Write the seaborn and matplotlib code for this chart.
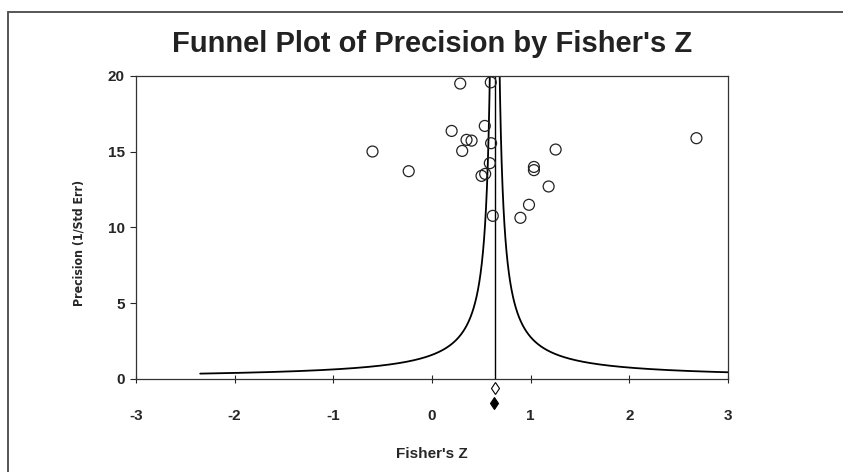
import numpy as np
import pandas as pd
import seaborn as sns
import matplotlib.pyplot as plt
from matplotlib.lines import Line2D

sns.set_style("ticks")
plt.rcParams['font.family'] = ['Liberation Sans', 'DejaVu Sans']
plt.rcParams['axes.unicode_minus'] = False

# study effects (Fisher's Z) and precision (1/SE)
fisher_z = [0.286, 0.596, 0.199, 0.535, 0.350, 0.401, -0.603, 0.306, 0.599, 1.253,
            -0.236, 0.586, 0.502, 0.539, 1.033, 1.033, 1.182, 0.983, 0.616, 0.896, 2.68]
precision = [19.50, 19.58, 16.37, 16.70, 15.78, 15.73, 15.01, 15.05, 15.56, 15.14,
             13.71, 14.24, 13.40, 13.53, 13.99, 13.78, 12.70, 11.49, 10.76, 10.63, 15.89]
pooled_z = 0.636        # observed summary (open diamond)
adjusted_z = 0.632      # adjusted summary (filled diamond)
funnel_k = 1.0          # half-width of funnel = k / precision
prec_min, prec_max = 0.335, 20.5
xticks = [-3, -2, -1, 0, 1, 2, 3]
yticks = [0, 5, 10, 15, 20]

df = pd.DataFrame({"z": fisher_z, "prec": precision})

fig = plt.figure(figsize=(8.43, 4.72), dpi=100)
ax = fig.add_axes([0.1613, 0.1977, 0.7023, 0.6413])

# funnel boundaries
p = np.geomspace(prec_min, prec_max, 400)
funnel = pd.DataFrame({
    "z": np.concatenate([pooled_z - funnel_k / p, pooled_z + funnel_k / p]),
    "prec": np.concatenate([p, p]),
    "side": ["left"] * len(p) + ["right"] * len(p),
})
for side, part in funnel.groupby("side"):
    sns.lineplot(data=part, x="z", y="prec", ax=ax, color="black", lw=1.3,
                 sort=False, estimator=None)
ax.axvline(pooled_z, color="black", lw=1.0)

sns.scatterplot(data=df, x="z", y="prec", ax=ax, marker="o", s=62,
                facecolor="none", edgecolor="#222222", linewidth=0.9, zorder=5)

# summary diamonds below the axis
ax.plot([pooled_z], [-0.62], marker="d", ms=6.5, mfc="white", mec="black",
        mew=0.8, clip_on=False, zorder=6)
ax.plot([adjusted_z], [-1.62], marker="d", ms=6.5, mfc="black", mec="black",
        mew=0.8, clip_on=False, zorder=6)

ax.set_xlim(-3, 3)
ax.set_ylim(0, 20)
ax.set_xticks(xticks)
ax.set_yticks(yticks)
ax.tick_params(axis="x", direction="inout", length=6, width=0.8, pad=19,
               labelsize=11)
ax.tick_params(axis="y", direction="out", length=4, width=0.8, pad=4,
               labelsize=11)
for lab in ax.get_xticklabels() + ax.get_yticklabels():
    lab.set_fontweight("bold")
for s in ax.spines.values():
    s.set_linewidth(0.9)
    s.set_color("#333333")

ax.set_xlabel("Fisher's Z", fontsize=11, fontweight="bold", labelpad=17)
ax.set_ylabel("Precision (1/Std Err)", fontsize=8.8, family="DejaVu Sans",
              stretch="condensed", fontweight="bold")
ax.yaxis.set_label_coords(-0.085, 0.449)
ax.set_title("Funnel Plot of Precision by Fisher's Z", fontsize=21,
             fontweight="bold", pad=17, x=0.5, color="#222222")

# outer frame (top and left edges)
fig.add_artist(Line2D([0.0095, 1.0], [0.9746, 0.9746], color="#555555", lw=1.4))
fig.add_artist(Line2D([0.0095, 0.0095], [0.0, 0.9746], color="#555555", lw=1.4))

fig.savefig("out.png", dpi=100)
